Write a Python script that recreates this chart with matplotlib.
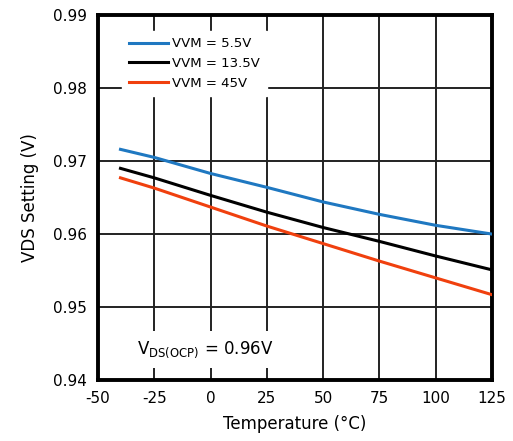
import matplotlib

matplotlib.use("Agg")
import matplotlib.pyplot as plt

plt.rcParams["font.family"] = ["DejaVu Sans"]
plt.rcParams["mathtext.default"] = "regular"
plt.rcParams["axes.unicode_minus"] = False

temp = [-40, -25, 0, 25, 50, 75, 100, 125]
vvm_5v5 = [0.9716, 0.9705, 0.9683, 0.9664, 0.9644, 0.9627, 0.9612, 0.9600]
vvm_13v5 = [0.9690, 0.9677, 0.9653, 0.9630, 0.9609, 0.9590, 0.9570, 0.9551]
vvm_45v = [0.9677, 0.9663, 0.9637, 0.9611, 0.9587, 0.9563, 0.9540, 0.9517]

x_ticks = [-50, -25, 0, 25, 50, 75, 100, 125]
y_ticks = [0.94, 0.95, 0.96, 0.97, 0.98, 0.99]


def main():
    fig = plt.figure(figsize=(5.13, 4.41), dpi=100)
    ax = fig.add_axes([0.191, 0.138, 0.768, 0.828])

    ax.plot(temp, vvm_5v5, color="#1f78c1", lw=2.2, label="VVM = 5.5V", zorder=3)
    ax.plot(temp, vvm_13v5, color="black", lw=2.2, label="VVM = 13.5V", zorder=3)
    ax.plot(temp, vvm_45v, color="#f0400e", lw=2.2, label="VVM = 45V", zorder=3)

    ax.set_xlim(-50, 125)
    ax.set_ylim(0.94, 0.99)
    ax.set_xticks(x_ticks)
    ax.set_yticks(y_ticks)
    ax.set_yticklabels([f"{v:.2f}" for v in y_ticks])
    ax.tick_params(length=0, labelsize=11, pad=8)
    ax.grid(True, color="#222222", lw=1.4, zorder=1)
    ax.set_axisbelow(True)
    for sp in ax.spines.values():
        sp.set_linewidth(2.8)

    ax.set_xlabel("Temperature (°C)", fontsize=12, labelpad=6)
    ax.set_ylabel("VDS Setting (V)", fontsize=12, labelpad=10)

    leg = ax.legend(loc="upper left", bbox_to_anchor=(0.045, 0.975), fontsize=9.5,
                    frameon=True, fancybox=False, handlelength=3.0,
                    handletextpad=0.3, labelspacing=0.5, borderpad=0.5)
    leg.get_frame().set_edgecolor("white")
    leg.get_frame().set_facecolor("white")
    leg.get_frame().set_alpha(1.0)

    ax.text(-32.5, 0.9442, r"V$_{DS(OCP)}$ = 0.96V", fontsize=12, va="center",
            bbox=dict(facecolor="white", edgecolor="none", pad=6), zorder=4)

    fig.savefig("out.png", dpi=100)


if __name__ == "__main__":
    main()
